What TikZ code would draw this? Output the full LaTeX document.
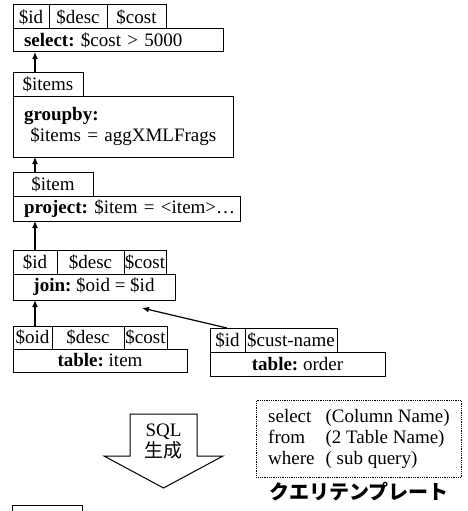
\documentclass[tikz,border=0pt]{standalone}
\usepackage{fontspec}
\setmainfont{Liberation Serif}
\newfontfamily\jafont{Noto Sans CJK JP}
\usetikzlibrary{positioning,arrows.meta}

\begin{document}
\frenchspacing
\begin{tikzpicture}[%
        x=1pt, y=-1pt,
        >={Latex[length=7pt,width=6pt]},
        node distance=0pt,
        font=\fontsize{19}{21}\selectfont,
        cell/.style={%
          draw, line width=1pt,
          inner sep=0pt, outer sep=0pt,
          minimum width=#1, minimum height=24pt
        },
        opbox/.style={%
          draw, line width=1pt,
          inner xsep=11pt, inner ysep=0pt, outer sep=0pt,
          text width=#1, minimum height=24pt, align=left
        },
        tabbox/.style={%
          draw, line width=1pt,
          inner sep=0pt, outer sep=0pt,
          minimum width=#1, minimum height=24pt
        },
        link/.style={->, line width=1.2pt}
      ]
      \useasboundingbox (0,0) rectangle (467,511);

      % select
      \node[cell=36pt, anchor=north west] (selId) at (13,5) {\$id};
      \node[cell=58pt] (selDesc) [right=of selId] {\$desc};
      \node[cell=59pt] (selCost) [right=of selDesc] {\$cost};
      \node[opbox=188pt, minimum height=23pt] (select) [below=of selId.south west, anchor=north west] {\mbox{\textbf{select:} \$cost > 5000}};

      % groupby
      \node[cell=70pt] (grpItems) [below=20pt of select.south west, anchor=north west] {\$items};
      \node[opbox=198pt, minimum height=61pt] (groupby) [below=of grpItems.south west, anchor=north west] {\textbf{groupby:}\\ \ \mbox{\$items = aggXMLFrags}};

      % project
      \node[cell=80pt] (prjItem) [below=15pt of groupby.south west, anchor=north west] {\$item};
      \node[opbox=205pt, minimum height=25pt] (project) [below=of prjItem.south west, anchor=north west] {\mbox{\textbf{project:} \$item = <item>\dots}};

      % join
      \node[cell=44pt] (joinId) [below=29pt of project.south west, anchor=north west] {\$id};
      \node[cell=67pt] (joinDesc) [right=of joinId] {\$desc};
      \node[cell=42pt] (joinCost) [right=of joinDesc] {\$cost};
      \node[tabbox=162pt, minimum height=26pt] (join) [below=of joinId.south west, anchor=north west] {\textbf{join:} \$oid = \$id};

      % table: item
      \node[cell=39pt, minimum height=23pt] (itemOid) [below=26pt of join.south west, anchor=north west] {\$oid};
      \node[cell=72pt, minimum height=23pt] (itemDesc) [right=of itemOid] {\$desc};
      \node[cell=43pt, minimum height=23pt] (itemCost) [right=of itemDesc] {\$cost};
      \node[tabbox=174pt, minimum height=23pt] (tblItem) [below=of itemOid.south west, anchor=north west] {\textbf{table:} item};

      % table: order
      \node[cell=35pt, anchor=north west] (ordId) at (210,328) {\$id};
      \node[cell=92pt] (ordName) [right=of ordId] {\$cust-name};
      \node[tabbox=175pt] (tblOrder) [below=of ordId.south west, anchor=north west] {\textbf{table:} order};

      \draw[link] ([xshift=22pt]grpItems.north west) -- ([xshift=22pt]select.south west);
      \draw[link] ([xshift=22pt]prjItem.north west) -- ([xshift=22pt]groupby.south west);
      \draw[link] ([xshift=22pt]joinId.north west) -- ([xshift=22pt]project.south west);
      \draw[link] ([xshift=22pt]itemOid.north west) -- ([xshift=22pt]join.south west);
      \draw[link] ([xshift=17pt]ordId.north west) -- ([xshift=129pt,yshift=-8pt]join.south west);

      % SQL generation
      \draw[line width=1pt, fill=white] (130,414) -- (197,414) -- (197,456) -- (223,456)
        -- (163.5,488) -- (104,456) -- (130,456) -- cycle;
      \node[align=center] (sqlGen) at (163.5,442) {SQL\\{\jafont 生成}};

      % query template
      \node[draw, densely dotted, line width=0.8pt, anchor=north west,
        minimum width=205pt, minimum height=77pt] (tmpl) at (256,400)
        {\begin{tabular}{@{}l@{\hspace{11pt}}l@{}}
          select & (Column Name)\\
          from & (2 Table Name)\\
          where & ( sub query)
        \end{tabular}};
      \node[font=\fontsize{20}{22}\selectfont\jafont\bfseries, inner sep=0pt] (tmplLbl) [below=4pt of tmpl] {クエリテンプレート};

      \node[cell=70pt, anchor=north west] (nextHead) at (12,505) {};
  \end{tikzpicture}
\end{document}
